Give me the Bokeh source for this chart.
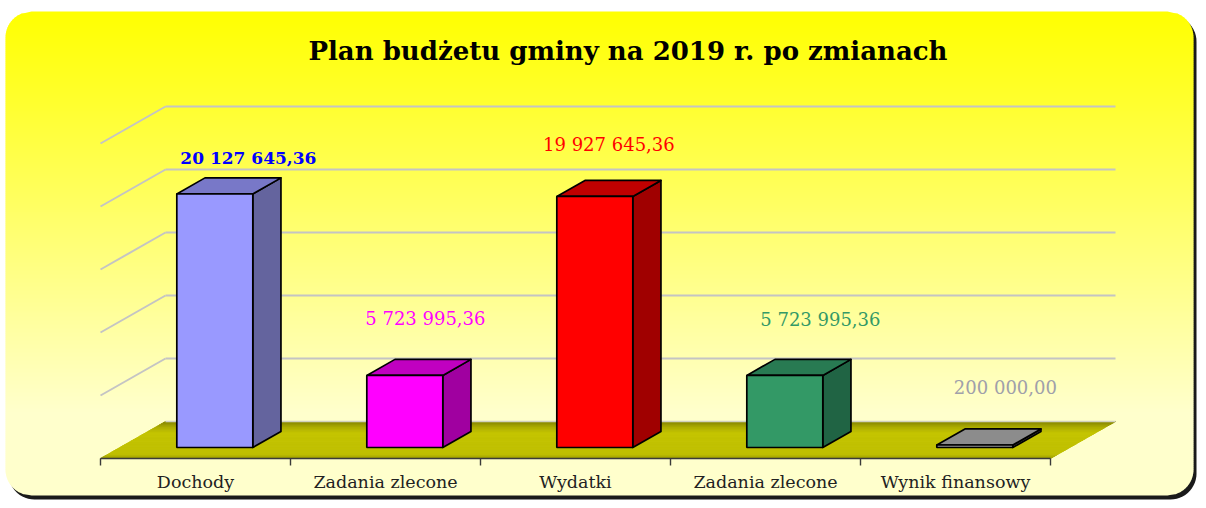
import numpy as np
from bokeh.plotting import figure
from bokeh.embed import file_html
from bokeh.resources import INLINE
from bokeh.core.properties import value as pvalue

# ---------------- data ----------------
title_text = "Plan  budżetu gminy na 2019 r. po zmianach"
categories = ["Dochody", "Zadania zlecone", "Wydatki", "Zadania zlecone", "Wynik finansowy"]
values = [20127645.36, 5723995.36, 19927645.36, 5723995.36, 200000.00]
grid_values = [5_000_000, 10_000_000, 15_000_000, 20_000_000, 25_000_000]

# ---------------- styles ----------------
front_colors = ["#9999FF", "#FF00FF", "#FF0000", "#339966", "#969696"]
top_colors = ["#7878C8", "#C000C0", "#C00000", "#287A52", "#8C8C8C"]
side_colors = ["#64649E", "#A000A0", "#A00000", "#206444", "#505050"]
label_colors = ["#0000FF", "#FF00FF", "#FF0000", "#339966", "#A0A0AA"]
label_bold = [True, False, False, False, False]
label_dx_px = [19.5, 6.5, 0.0, 21.5, 16.5]
label_dy_px = [-28.0, -49.0, -44.0, -48.0, -49.5]

W, H = 1198, 500
PX_CAT = 190.0            # px per category
PX_UNIT = 12.6 / 1e6      # px per value unit
X0_PX = 100.0             # canvas x of the first category edge
Y0_PX = 458.0             # canvas y of value 0 on the front edge

x_start = -X0_PX / PX_CAT
x_end = (W - X0_PX) / PX_CAT
y_end = Y0_PX / PX_UNIT
y_start = -(H - Y0_PX) / PX_UNIT


def cx(px):
    return x_start + px / PX_CAT


def cy(py):
    return y_end - py / PX_UNIT


def dxp(px):
    return px / PX_CAT


def dyp(py):
    return py / PX_UNIT


DEPTH_DX = dxp(65)
DEPTH_DY = dyp(37)
BAR_D0 = 0.297
BAR_D1 = 0.73
BAR_W = 0.4
N = len(categories)

p = figure(width=W, height=H, x_range=(x_start, x_end), y_range=(y_start, y_end),
           output_backend="svg", toolbar_location=None,
           x_axis_location=None, y_axis_location=None, min_border=0,
           outline_line_color=None, background_fill_color="white",
           border_fill_color="white")
for g in p.grid:
    g.visible = False

# ---------------- frame with rounded corners & gradient ----------------
FL, FT, FR, FB, RAD = 5.0, 11.0, 1193.0, 495.0, 26.0


def rounded_path(l, t, r, b, rad, n=14):
    xs, ys = [], []
    for (ccx, ccy, a0) in [(r - rad, t + rad, -90), (r - rad, b - rad, 0),
                           (l + rad, b - rad, 90), (l + rad, t + rad, 180)]:
        for a in np.linspace(a0, a0 + 90, n):
            xs.append(cx(ccx + rad * np.cos(np.radians(a))))
            ys.append(cy(ccy + rad * np.sin(np.radians(a))))
    return xs, ys


sx, sy = rounded_path(FL + 3, FT + 4, FR + 3, FB + 4, RAD)
p.patch(sx, sy, fill_color="#1A1A1A", line_color=None)


def inset(y):
    if y < FT + RAD:
        d = FT + RAD - y
    elif y > FB - RAD:
        d = y - (FB - RAD)
    else:
        return 0.0
    return RAD - np.sqrt(max(RAD * RAD - d * d, 0.0))


band_xs, band_ys, band_cols = [], [], []
yy = FT
step = 2.0
while yy < FB:
    ya, yb = yy, min(yy + step, FB)
    yb2 = min(yb + 0.7, FB)
    ia, ib = inset(ya), inset(yb2)
    band_xs.append([cx(FL + ia), cx(FR - ia), cx(FR - ib), cx(FL + ib)])
    band_ys.append([cy(ya), cy(ya), cy(yb2), cy(yb2)])
    f = min(max((0.5 * (ya + yb) - 11) / 400.0, 0.0), 1.0)
    bval = int(round(204 * f))
    band_cols.append("#FFFF%02X" % bval)
    yy += step
p.patches(band_xs, band_ys, fill_color=band_cols, line_color=None)

# ---------------- walls: gridlines ----------------
p.multi_line([[DEPTH_DX, N + DEPTH_DX] for v in grid_values],
             [[DEPTH_DY + v, DEPTH_DY + v] for v in grid_values],
             line_color="#C4C4C4", line_width=2)
p.multi_line([[0, DEPTH_DX] for v in grid_values],
             [[v, DEPTH_DY + v] for v in grid_values],
             line_color="#C4C4C4", line_width=2)

# ---------------- floor ----------------
stops = [(0.0, (150, 150, 0)), (0.12, (190, 190, 0)), (0.7, (196, 196, 0)),
         (0.86, (172, 172, 0)), (1.0, (135, 135, 0))]


def floor_color(d):
    for (d0, c0), (d1, c1) in zip(stops[:-1], stops[1:]):
        if d0 <= d <= d1:
            t = (d - d0) / (d1 - d0)
            c = [int(round(a + (b - a) * t)) for a, b in zip(c0, c1)]
            return "#%02X%02X%02X" % tuple(c)
    return "#C0C000"


nb = 30
fxs, fys, fcs = [], [], []
for k in range(nb):
    da, db = k / nb, (k + 1) / nb
    fxs.append([da * DEPTH_DX, N + da * DEPTH_DX, N + db * DEPTH_DX, db * DEPTH_DX])
    fys.append([da * DEPTH_DY, da * DEPTH_DY, db * DEPTH_DY, db * DEPTH_DY])
    fcs.append(floor_color((k + 0.5) / nb))
p.patches(fxs, fys, fill_color=fcs, line_color=fcs, line_width=1.0)
p.line([DEPTH_DX, N + DEPTH_DX], [DEPTH_DY, DEPTH_DY], line_color="#D0D0C0", line_width=1.5)

# ---------------- axis ----------------
p.line([0, N], [0, 0], line_color="#3A3A3A", line_width=1.6)
p.segment(x0=list(range(N + 1)), y0=[0] * (N + 1), x1=list(range(N + 1)),
          y1=[-dyp(7)] * (N + 1), line_color="#3A3A3A", line_width=1.4)
p.text(x=[i + 0.5 for i in range(N)], y=[cy(481)] * N, text=categories,
       text_font=pvalue("DejaVu Serif"), text_font_size="17.5px",
       text_color="#222222", text_align="center", text_baseline="middle")

# ---------------- bars ----------------
bdx = (BAR_D1 - BAR_D0) * DEPTH_DX
bdy = (BAR_D1 - BAR_D0) * DEPTH_DY
for i, v in enumerate(values):
    c = i + 0.5
    xl = c - BAR_W / 2 + BAR_D0 * DEPTH_DX
    xr = xl + BAR_W
    yb = BAR_D0 * DEPTH_DY
    yt = yb + v
    p.patch([xr, xr + bdx, xr + bdx, xr], [yb, yb + bdy, yt + bdy, yt],
            fill_color=side_colors[i], line_color="black", line_width=1.7,
            line_join="round")
    p.patch([xl, xr, xr + bdx, xl + bdx], [yt, yt, yt + bdy, yt + bdy],
            fill_color=top_colors[i], line_color="black", line_width=1.7,
            line_join="round")
    p.quad(left=[xl], right=[xr], bottom=[yb], top=[yt],
           fill_color=front_colors[i], line_color="black", line_width=1.7)

    lab = f"{v:,.2f}".replace(",", " ").replace(".", ",")
    lx = xl + BAR_W / 2 + bdx / 2 + dxp(label_dx_px[i])
    ly = yt + bdy / 2 - dyp(label_dy_px[i])
    p.text(x=[lx], y=[ly], text=[lab], text_font=pvalue("DejaVu Serif"),
           text_font_size="17px" if label_bold[i] else "18px",
           text_font_style="bold" if label_bold[i] else "normal",
           text_color=label_colors[i], text_align="center", text_baseline="middle")

# ---------------- title ----------------
p.text(x=[cx(632)], y=[cy(50)], text=[title_text], text_font=pvalue("DejaVu Serif"),
       text_font_size="26px", text_font_style="bold", text_color="black",
       text_align="center", text_baseline="middle")

open("out.html", "w").write(file_html(p, INLINE))
